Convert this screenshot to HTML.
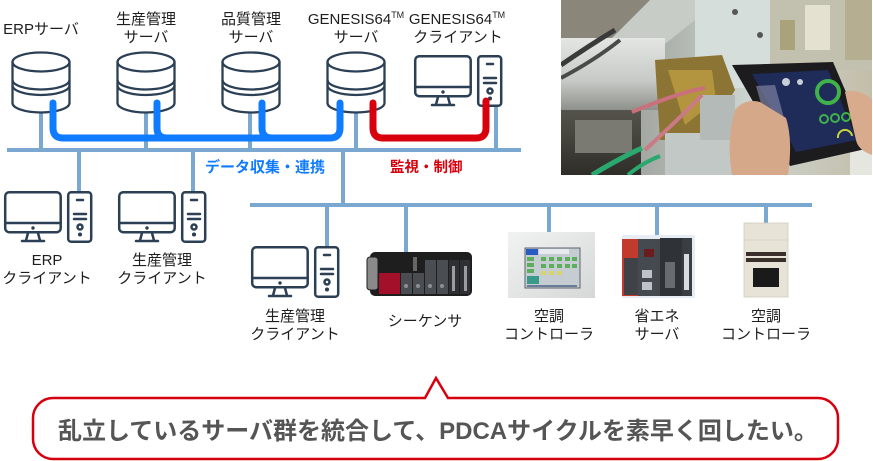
<!DOCTYPE html>
<html><head><meta charset="utf-8">
<style>
html,body{margin:0;padding:0;background:#fff;}
svg{display:block;}
text{font-family:"Liberation Sans","Noto Sans CJK JP",sans-serif;}
</style></head>
<body>
<svg width="873" height="461" viewBox="0 0 873 461" xmlns="http://www.w3.org/2000/svg">
<defs>
  <linearGradient id="bg1" x1="0" y1="0" x2="1" y2="0">
    <stop offset="0" stop-color="#8a8b85"/>
    <stop offset="0.35" stop-color="#adb2ac"/>
    <stop offset="0.6" stop-color="#cdd4d0"/>
    <stop offset="1" stop-color="#c3bea9"/>
  </linearGradient>
  <linearGradient id="bez" x1="0" y1="0" x2="1" y2="1">
    <stop offset="0" stop-color="#f1f2f2"/>
    <stop offset="1" stop-color="#d6d8d8"/>
  </linearGradient>
  <linearGradient id="metal" x1="0" y1="0" x2="0" y2="1">
    <stop offset="0" stop-color="#e4e6e3"/>
    <stop offset="0.6" stop-color="#c6c9c5"/>
    <stop offset="1" stop-color="#8d908b"/>
  </linearGradient>
  <linearGradient id="dark" x1="0" y1="0" x2="0" y2="1">
    <stop offset="0" stop-color="#55544c"/>
    <stop offset="1" stop-color="#2e2d28"/>
  </linearGradient>
  <clipPath id="pc"><rect x="561" y="0" width="311" height="175"/></clipPath>
</defs>

<!-- ===== Photo top-right ===== -->
<g clip-path="url(#pc)">
  <rect x="561" y="0" width="311" height="175" fill="url(#bg1)"/>
  <rect x="561" y="0" width="90" height="40" fill="#8a867a"/>
  <polygon points="650,0 720,0 645,60 605,45" fill="#c8ccc6"/>
  <rect x="695" y="0" width="75" height="88" fill="#d5dedb"/>
  <circle cx="735" cy="12" r="3" fill="#555"/>
  <circle cx="760" cy="35" r="3" fill="#555"/>
  <rect x="770" y="0" width="102" height="70" fill="#c2c0ae"/>
  <rect x="805" y="5" width="25" height="45" fill="#e4e1d1"/>
  <rect x="780" y="20" width="15" height="30" fill="#a9a27a"/>
  <rect x="845" y="0" width="27" height="60" fill="#b5ae90"/>
  <rect x="561" y="38" width="104" height="72" fill="url(#metal)"/>
  <path d="M561 65 Q 590 45 615 30" stroke="#3a3a3a" stroke-width="5" fill="none"/>
  <path d="M561 78 Q 595 60 620 40" stroke="#4a4a4a" stroke-width="4" fill="none"/>
  <polygon points="655,60 722,55 735,90 705,140 660,140" fill="#8c7434"/>
  <polygon points="668,70 712,70 716,100 685,125" fill="#b3953f"/>
  <rect x="561" y="110" width="80" height="65" fill="url(#dark)"/>
  <rect x="575" y="120" width="57" height="33" fill="#7a7a72"/>
  <rect x="665" y="133" width="70" height="42" fill="#c2c8c6"/>
  <rect x="700" y="95" width="35" height="45" fill="#b4bab7"/>
  <rect x="850" y="150" width="22" height="25" fill="#e6e6e0"/>
  <path d="M632 112 Q 680 92 705 88" stroke="#c9707a" stroke-width="4" fill="none"/>
  <path d="M645 150 Q 680 118 702 95" stroke="#c97a84" stroke-width="4" fill="none"/>
  <path d="M592 175 Q 620 158 642 148" stroke="#2aa870" stroke-width="5" fill="none"/>
  <path d="M628 175 Q 642 163 660 156" stroke="#2aa870" stroke-width="4" fill="none"/>
  <!-- tablet -->
  <polygon points="732,65 833,62 870,148 790,166" fill="#1c1c1e"/>
  <polygon points="752,74 828,70 857,140 796,152" fill="#1f2b58"/>
  <polygon points="756,86 775,85 790,140 772,142" fill="#7c82a0" opacity="0.7"/>
  <circle cx="828" cy="92" r="11" fill="none" stroke="#3fb24a" stroke-width="4"/>
  <circle cx="824" cy="119" r="4" fill="none" stroke="#3fb24a" stroke-width="2"/>
  <circle cx="835" cy="118" r="4" fill="none" stroke="#3fb24a" stroke-width="2"/>
  <circle cx="846" cy="117" r="4" fill="none" stroke="#3fb24a" stroke-width="2"/>
  <path d="M838 138 A7 7 0 0 1 852 136" stroke="#c7d33a" stroke-width="2" fill="none"/>
  <circle cx="786" cy="82" r="4" fill="#c9cfd8"/>
  <circle cx="800" cy="82" r="3" fill="#c9cfd8"/>
  <!-- hands -->
  <path d="M735 110 Q 745 98 760 102 L 786 118 Q 793 140 788 175 L 732 175 Q 726 140 735 110 Z" fill="#d6a88a"/>
  <path d="M845 92 Q 860 88 872 100 L 872 155 Q 858 150 856 140 Q 850 115 845 92 Z" fill="#d9ab8d"/>
</g>

<!-- ===== Network lines (light blue) ===== -->
<g stroke="#7ba8d1" stroke-width="4" fill="none">
  <line x1="7" y1="150" x2="521" y2="150"/>
  <line x1="41" y1="110" x2="41" y2="150"/>
  <line x1="146" y1="110" x2="146" y2="150"/>
  <line x1="250" y1="110" x2="250" y2="150"/>
  <line x1="356" y1="110" x2="356" y2="150"/>
  <line x1="496" y1="104" x2="496" y2="150"/>
  <line x1="79" y1="150" x2="79" y2="192"/>
  <line x1="193" y1="150" x2="193" y2="192"/>
  <line x1="343" y1="150" x2="343" y2="205"/>
  <line x1="250" y1="205" x2="812" y2="205"/>
  <line x1="327" y1="205" x2="327" y2="247"/>
  <line x1="406" y1="205" x2="406" y2="253"/>
  <line x1="549" y1="205" x2="549" y2="233"/>
  <line x1="657" y1="205" x2="657" y2="236"/>
  <line x1="766" y1="205" x2="766" y2="224"/>
</g>

<!-- ===== Database cylinders ===== -->
<g stroke="#2b3f55" stroke-width="2.3" fill="#fff">
  <g transform="translate(41,0)">
    <path d="M-28.5 62 V103 A28.5 9.5 0 0 0 28.5 103 V62"/>
    <ellipse cx="0" cy="62" rx="28.5" ry="9.5"/>
    <path d="M-28.5 80 A28.5 9.5 0 0 0 28.5 80" fill="none"/>
    <path d="M-28.5 85.5 A28.5 9.5 0 0 0 28.5 85.5" fill="none"/>
  </g>
  <g transform="translate(146,0)">
    <path d="M-28.5 62 V103 A28.5 9.5 0 0 0 28.5 103 V62"/>
    <ellipse cx="0" cy="62" rx="28.5" ry="9.5"/>
    <path d="M-28.5 80 A28.5 9.5 0 0 0 28.5 80" fill="none"/>
    <path d="M-28.5 85.5 A28.5 9.5 0 0 0 28.5 85.5" fill="none"/>
  </g>
  <g transform="translate(251,0)">
    <path d="M-28.5 62 V103 A28.5 9.5 0 0 0 28.5 103 V62"/>
    <ellipse cx="0" cy="62" rx="28.5" ry="9.5"/>
    <path d="M-28.5 80 A28.5 9.5 0 0 0 28.5 80" fill="none"/>
    <path d="M-28.5 85.5 A28.5 9.5 0 0 0 28.5 85.5" fill="none"/>
  </g>
  <g transform="translate(356,0)">
    <path d="M-28.5 62 V103 A28.5 9.5 0 0 0 28.5 103 V62"/>
    <ellipse cx="0" cy="62" rx="28.5" ry="9.5"/>
    <path d="M-28.5 80 A28.5 9.5 0 0 0 28.5 80" fill="none"/>
    <path d="M-28.5 85.5 A28.5 9.5 0 0 0 28.5 85.5" fill="none"/>
  </g>
</g>

<!-- ===== Client icons ===== -->
<g stroke="#2b3f55" stroke-width="2.5" fill="none" stroke-linecap="round">
  <g transform="translate(4,191)">
    <rect x="1.2" y="1.2" width="55.5" height="40" rx="4" fill="#fff"/>
    <line x1="1.2" y1="32" x2="56.7" y2="32"/>
    <circle cx="29" cy="37" r="1.2" fill="#2b3f55" stroke-width="1"/>
    <path d="M24 42 L22 49.5 M34 42 L36 49.5 M18 50 H40"/>
    <rect x="64.2" y="1.2" width="23" height="49.5" rx="3" fill="#fff"/>
    <line x1="73" y1="9" x2="79" y2="9"/>
    <line x1="70" y1="23" x2="82" y2="23"/>
    <line x1="70" y1="28" x2="82" y2="28"/>
    <circle cx="76" cy="36" r="2.5"/>
    <circle cx="76" cy="43.5" r="0.8" fill="#2b3f55"/>
  </g>
  <g transform="translate(118,191)">
    <rect x="1.2" y="1.2" width="55.5" height="40" rx="4" fill="#fff"/>
    <line x1="1.2" y1="32" x2="56.7" y2="32"/>
    <circle cx="29" cy="37" r="1.2" fill="#2b3f55" stroke-width="1"/>
    <path d="M24 42 L22 49.5 M34 42 L36 49.5 M18 50 H40"/>
    <rect x="64.2" y="1.2" width="23" height="49.5" rx="3" fill="#fff"/>
    <line x1="73" y1="9" x2="79" y2="9"/>
    <line x1="70" y1="23" x2="82" y2="23"/>
    <line x1="70" y1="28" x2="82" y2="28"/>
    <circle cx="76" cy="36" r="2.5"/>
    <circle cx="76" cy="43.5" r="0.8" fill="#2b3f55"/>
  </g>
  <g transform="translate(251,246)">
    <rect x="1.2" y="1.2" width="55.5" height="40" rx="4" fill="#fff"/>
    <line x1="1.2" y1="32" x2="56.7" y2="32"/>
    <circle cx="29" cy="37" r="1.2" fill="#2b3f55" stroke-width="1"/>
    <path d="M24 42 L22 49.5 M34 42 L36 49.5 M18 50 H40"/>
    <rect x="64.2" y="1.2" width="23" height="49.5" rx="3" fill="#fff"/>
    <line x1="73" y1="9" x2="79" y2="9"/>
    <line x1="70" y1="23" x2="82" y2="23"/>
    <line x1="70" y1="28" x2="82" y2="28"/>
    <circle cx="76" cy="36" r="2.5"/>
    <circle cx="76" cy="43.5" r="0.8" fill="#2b3f55"/>
  </g>
  <g transform="translate(414,55)">
    <rect x="1.2" y="1.2" width="55.5" height="40" rx="4" fill="#fff"/>
    <line x1="1.2" y1="32" x2="56.7" y2="32"/>
    <circle cx="29" cy="37" r="1.2" fill="#2b3f55" stroke-width="1"/>
    <path d="M24 42 L22 49.5 M34 42 L36 49.5 M18 50 H40"/>
    <rect x="64.2" y="1.2" width="23" height="49.5" rx="3" fill="#fff"/>
    <line x1="73" y1="9" x2="79" y2="9"/>
    <line x1="70" y1="23" x2="82" y2="23"/>
    <line x1="70" y1="28" x2="82" y2="28"/>
    <circle cx="76" cy="36" r="2.5"/>
    <circle cx="76" cy="43.5" r="0.8" fill="#2b3f55"/>
  </g>
</g>

<!-- ===== Blue data line ===== -->
<g stroke="#0f7bff" stroke-width="7" fill="none" stroke-linecap="round" stroke-linejoin="round">
  <path d="M53 103 V128 Q53 138 63 138 H330 Q340 138 340 128 V103"/>
  <path d="M157 103 V128 Q157 138 167 138"/>
  <path d="M262 103 V128 Q262 138 272 138"/>
</g>
<!-- ===== Red control line ===== -->
<path d="M373 103 V128 Q373 138 383 138 H476 Q486 138 486 128 V101" stroke="#d9000d" stroke-width="7" fill="none" stroke-linecap="round" stroke-linejoin="round"/>

<!-- ===== Sequencer ===== -->
<g>
  <rect x="370" y="252" width="102" height="44" rx="5" fill="#1e1e1e"/>
  <rect x="367" y="257" width="11" height="33" rx="3" fill="#8a8a8a" stroke="#1e1e1e" stroke-width="1"/>
  <rect x="379" y="273" width="21" height="21" fill="#a3102a"/>
  <rect x="401" y="273" width="11" height="21" fill="#4a4d52"/>
  <rect x="413" y="273" width="11" height="21" fill="#4a4d52"/>
  <rect x="425" y="260" width="11" height="34" fill="#4a4d52"/>
  <rect x="437" y="260" width="11" height="34" fill="#4a4d52"/>
  <rect x="449" y="260" width="10" height="34" fill="#2e3033"/>
  <rect x="460" y="260" width="10" height="34" fill="#2e3033"/>
  <rect x="452" y="266" width="3" height="25" fill="#9a9c9e"/>
  <rect x="464" y="266" width="3" height="25" fill="#9a9c9e"/>
  <rect x="413" y="257" width="4" height="14" fill="#666"/>
  <circle cx="406" cy="286" r="2" fill="#8d9096"/>
  <circle cx="418" cy="286" r="2" fill="#8d9096"/>
  <circle cx="430" cy="286" r="2" fill="#8d9096"/>
  <circle cx="442" cy="286" r="2" fill="#8d9096"/>
</g>

<!-- ===== AC controller 1 ===== -->
<g>
  <rect x="508" y="232" width="87" height="66" fill="url(#bez)"/>
  <rect x="525" y="248" width="55" height="40" fill="#c5ccd2" stroke="#5a6470" stroke-width="1"/>
  <rect x="526" y="249" width="12" height="6" fill="#2a5bc0"/>
  <rect x="539" y="249" width="30" height="5" fill="#e8eaf0"/>
  <g fill="#5cae5a">
    <rect x="527" y="257" width="7" height="4"/><rect x="527" y="263" width="7" height="4"/><rect x="527" y="269" width="7" height="4"/>
    <rect x="541" y="257" width="5" height="4"/><rect x="549" y="257" width="5" height="4"/><rect x="557" y="257" width="5" height="4"/><rect x="565" y="257" width="5" height="4"/><rect x="572" y="257" width="5" height="4"/>
    <rect x="541" y="264" width="5" height="4"/><rect x="549" y="264" width="5" height="4"/><rect x="557" y="264" width="5" height="4"/><rect x="565" y="264" width="5" height="4"/><rect x="572" y="264" width="5" height="4"/>
  </g>
  <g fill="#d8d46a">
    <rect x="541" y="271" width="5" height="4"/><rect x="549" y="271" width="5" height="4"/><rect x="557" y="271" width="5" height="4"/>
  </g>
  <rect x="527" y="276" width="12" height="8" fill="#3a9a8a"/>
  <rect x="527" y="285" width="50" height="2" fill="#6b7b9a"/>
</g>

<!-- ===== Energy server ===== -->
<g>
  <rect x="622" y="235" width="73" height="63" fill="#e6edf5"/>
  <rect x="622" y="239" width="18" height="57" fill="#c23a2c"/>
  <rect x="624" y="258" width="14" height="37" fill="#3f4246"/>
  <rect x="638" y="239" width="22" height="57" fill="#454950"/>
  <rect x="644" y="249" width="10" height="8" fill="#6b1c1c"/>
  <rect x="642" y="270" width="10" height="8" fill="#bfc3c8"/>
  <rect x="642" y="282" width="10" height="8" fill="#bfc3c8"/>
  <rect x="660" y="238" width="22" height="58" fill="#2f3236"/>
  <rect x="665" y="262" width="10" height="26" fill="#686c70"/>
  <rect x="682" y="238" width="10" height="58" fill="#3a3d41"/>
  <rect x="684" y="254" width="5" height="36" fill="#d8dcde"/>
</g>

<!-- ===== AC controller 2 ===== -->
<g>
  <rect x="744" y="223" width="44" height="74" fill="#e7e3d7" stroke="#cfcabb" stroke-width="0.8"/>
  <rect x="746" y="252" width="40" height="4" fill="#3a2f2a"/>
  <rect x="746" y="258" width="40" height="4" fill="#3a2f2a"/>
  <rect x="753" y="268" width="26" height="19" fill="#1a1a1a"/>
  <line x1="744" y1="240" x2="788" y2="240" stroke="#d8d3c5" stroke-width="1"/>
</g>

<!-- ===== Labels ===== -->
<g font-size="15" fill="#1e1e1e" text-anchor="middle">
  <text x="41" y="34">ERPサーバ</text>
  <text x="146" y="24">生産管理</text>
  <text x="146" y="42">サーバ</text>
  <text x="251" y="24">品質管理</text>
  <text x="251" y="42">サーバ</text>
  <text x="356" y="24">GENESIS64<tspan font-size="9" dy="-6">TM</tspan></text>
  <text x="356" y="42">サーバ</text>
  <text x="457" y="24">GENESIS64<tspan font-size="9" dy="-6">TM</tspan></text>
  <text x="458" y="42">クライアント</text>
  <text x="47" y="265">ERP</text>
  <text x="47" y="283">クライアント</text>
  <text x="162" y="265">生産管理</text>
  <text x="162" y="283">クライアント</text>
  <text x="295" y="321">生産管理</text>
  <text x="295" y="339">クライアント</text>
  <text x="425" y="326">シーケンサ</text>
  <text x="549" y="321">空調</text>
  <text x="549" y="339">コントローラ</text>
  <text x="657" y="321">省エネ</text>
  <text x="657" y="339">サーバ</text>
  <text x="766" y="321">空調</text>
  <text x="766" y="339">コントローラ</text>
</g>
<text x="205" y="172" font-size="15" font-weight="bold" fill="#0f7bff">データ収集・連携</text>
<text x="390" y="172" font-size="14.5" font-weight="bold" fill="#d9000d">監視・制御</text>

<!-- ===== Callout ===== -->
<path d="M53 398 L425 398 L436 378 L448 398 L818 398 A20 20 0 0 1 838 418 L838 439 A20 20 0 0 1 818 459 L53 459 A20 20 0 0 1 33 439 L33 418 A20 20 0 0 1 53 398 Z" fill="#fff" stroke="#d7000f" stroke-width="2.5" stroke-linejoin="miter"/>
<text x="58" y="439" font-size="24" font-weight="bold" fill="#555">乱立しているサーバ群を統合して、PDCAサイクルを素早く回したい。</text>
</svg>
</body></html>
